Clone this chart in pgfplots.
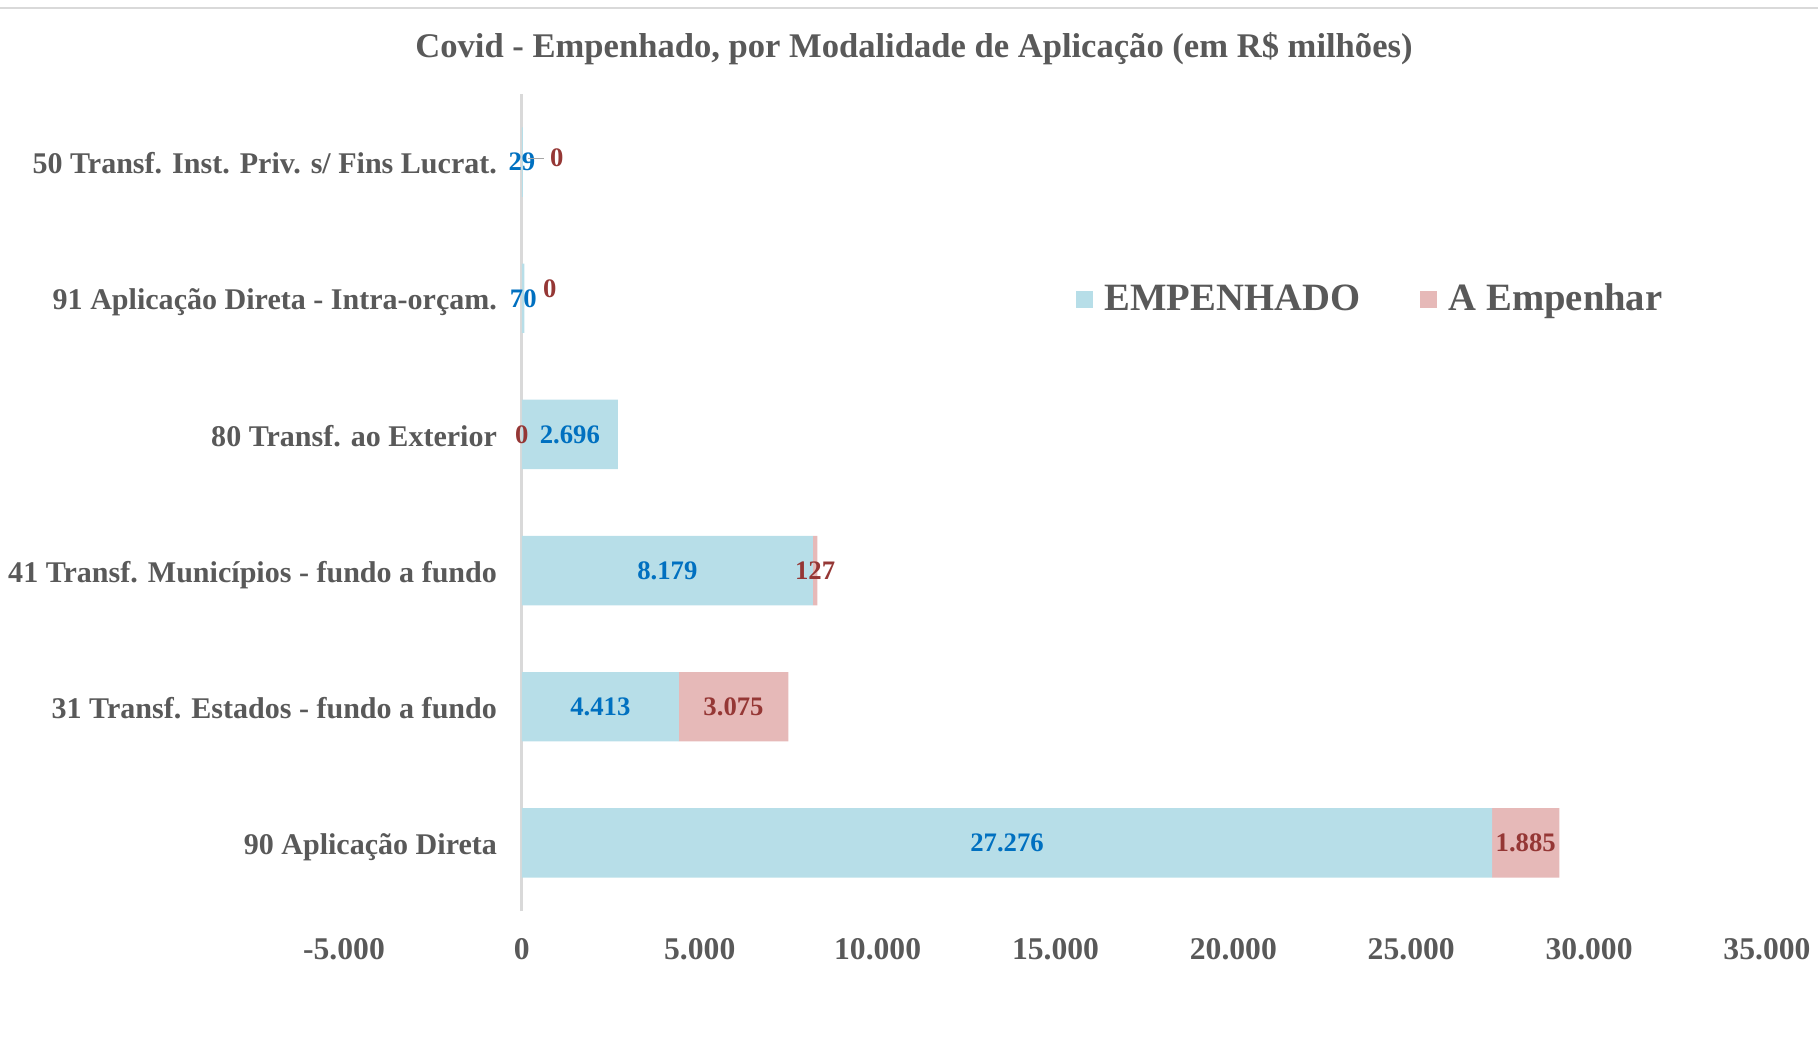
\documentclass[border=0pt]{standalone}
\usepackage{pgfplots}
\pgfplotsset{compat=1.18}
\usepackage{fontspec}
\setmainfont{Liberation Serif}
\definecolor{empblue}{HTML}{B7DEE8}
\definecolor{emppink}{HTML}{E6B9B8}
\definecolor{labblue}{HTML}{0070C0}
\definecolor{labred}{HTML}{953735}
\definecolor{txtgray}{HTML}{595959}
\definecolor{axgray}{HTML}{D9D9D9}
\tikzset{lbl/.style={font=\bfseries\fontsize{7.6}{9}\selectfont}}

\begin{document}
\begin{tikzpicture}
\path[use as bounding box] (0,0) rectangle (18.18,10.41);
\draw[axgray, line width=0.8pt] (0,10.33) -- (18.18,10.33);
\node[font=\bfseries\fontsize{9.84}{12}\selectfont, text=txtgray] at (9.14,9.925)
  {Covid - Empenhado, por Modalidade de Aplicação (em R\$ milhões)};
\begin{axis}[
    at={(3.44cm,1.30cm)}, anchor=south west,
    scale only axis, width=14.23cm, height=8.17cm,
    xbar stacked, bar width=0.51,
    xmin=-5000, xmax=35000, ymin=-0.5, ymax=5.5,
    axis x line*=bottom, axis y line*=middle,
    hide obscured x ticks=false,
    x axis line style={draw=none},
    y axis line style={draw=axgray, line width=0.8pt},
    xtick={-5000,0,5000,10000,15000,20000,25000,30000,35000},
    ytick={0,1,2,3,4,5},
    yticklabels={90 Aplicação Direta, 31 Transf. Estados - fundo a fundo,
      41 Transf. Municípios - fundo a fundo, 80 Transf. ao Exterior,
      91 Aplicação Direta - Intra-orçam., 50 Transf. Inst. Priv. s/ Fins Lucrat.},
    major tick length=0pt,
    ticklabel style={font=\bfseries\fontsize{9}{11}\selectfont, text=txtgray},
    xticklabel style={yshift=-0.153cm},
    yticklabel style={font=\bfseries\fontsize{8.55}{10}\selectfont, xshift=-0.125cm,
      text height=0.66em, text depth=0pt},
    /pgf/number format/assume math mode=true,
    /pgf/number format/1000 sep={.},
    scaled x ticks=false,
    legend style={at={(0.723,0.748)}, anchor=center, draw=none, fill=none,
      legend columns=2, font=\bfseries\fontsize{11}{13}\selectfont, text=txtgray,
      /tikz/every even column/.append style={column sep=0.53cm}},
    legend image code/.code={\fill[#1] (0cm,-0.085cm) rectangle (0.17cm,0.085cm);
      \path (0.215cm,0);},
]
\addplot[fill=empblue, draw=none] coordinates {
  (27276,0) (4413,1) (8179,2) (2696,3) (70,4) (29,5)};
\addplot[fill=emppink, draw=none] coordinates {
  (1885,0) (3075,1) (127,2) (0,3) (0,4) (0,5)};
\legend{EMPENHADO, A Empenhar}

\coordinate (a0) at (axis cs:13638,0);
\coordinate (b0) at (axis cs:28218,0);
\coordinate (a1) at (axis cs:2206,1);
\coordinate (b1) at (axis cs:5950,1);
\coordinate (a2) at (axis cs:4089,2);
\coordinate (b2) at (axis cs:8242,2);
\coordinate (a3) at (axis cs:1348,3);
\coordinate (b3) at (axis cs:0,3);
\coordinate (a4) at (axis cs:40,4);
\coordinate (b4) at (axis cs:783,4.068);
\coordinate (a5) at (axis cs:0,5);
\coordinate (b5) at (axis cs:979,5.034);
\coordinate (l5a) at (axis cs:163,5.026);
\coordinate (l5b) at (axis cs:620,5.026);
\end{axis}
\node[lbl, text=labblue] at (a0) {27.276};
\node[lbl, text=labred] at (b0) {1.885};
\node[lbl, text=labblue] at (a1) {4.413};
\node[lbl, text=labred] at (b1) {3.075};
\node[lbl, text=labblue] at (a2) {8.179};
\node[lbl, text=labred] at (b2) {127};
\node[lbl, text=labblue] at (a3) {2.696};
\node[lbl, text=labred] at (b3) {0};
\node[lbl, text=labblue] at (a4) {70};
\node[lbl, text=labred] at (b4) {0};
\node[lbl, text=labblue] at (a5) {29};
\node[lbl, text=labred] at (b5) {0};
\draw[gray!70, line width=0.5pt] (l5a) -- (l5b);
\end{tikzpicture}
\end{document}
